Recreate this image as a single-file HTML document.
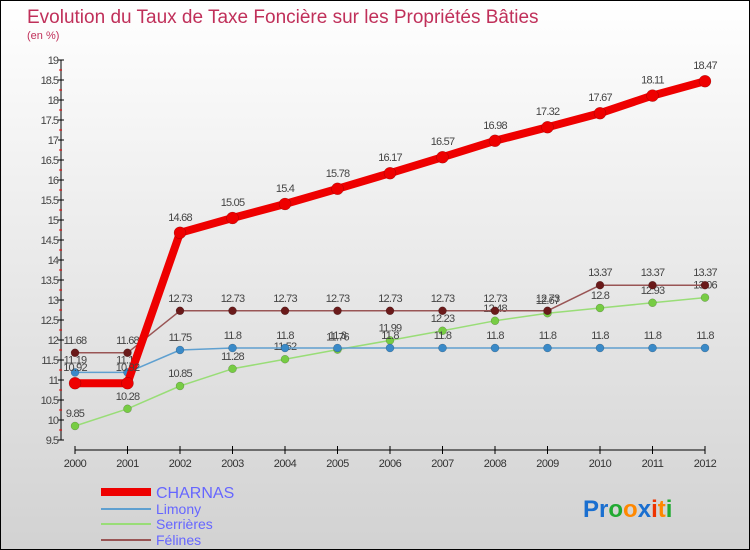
<!DOCTYPE html>
<html><head><meta charset="utf-8"><style>
body{margin:0;}
#c{position:relative;width:748px;height:548px;border:1px solid #000;background:linear-gradient(#ffffff,#d2d2d2);font-family:"Liberation Sans",sans-serif;overflow:hidden;}
</style></head><body>
<div id="c">
<svg id="s" width="748" height="548" xmlns="http://www.w3.org/2000/svg">
<text x="26" y="22" font-size="19" fill="#c0305a">Evolution du Taux de Taxe Foncière sur les Propriétés Bâties</text>
<text x="26" y="38" font-size="11" fill="#c0305a">(en %)</text>
<g id="axes"></g><g id="series"></g>
<g>
<line x1="100" y1="491" x2="150" y2="491" stroke="#e00" stroke-width="8"/>
<text x="155" y="497" font-size="16" fill="#6666ff">CHARNAS</text>
<line x1="100" y1="508" x2="150" y2="508" stroke="#5fa0d0" stroke-width="2"/>
<text x="155" y="513" font-size="14" fill="#6666ff">Limony</text>
<line x1="100" y1="523" x2="150" y2="523" stroke="#99dd77" stroke-width="2"/>
<text x="155" y="528" font-size="14" fill="#6666ff">Serrières</text>
<line x1="100" y1="539" x2="150" y2="539" stroke="#995555" stroke-width="2"/>
<text x="155" y="544" font-size="14" fill="#6666ff">Félines</text>
</g>
<text x="582" y="516" font-size="24" font-weight="bold"><tspan fill="#1a6fd0">Pr</tspan><tspan fill="#22aa33">o</tspan><tspan fill="#ff8800">o</tspan><tspan fill="#1a6fd0">x</tspan><tspan fill="#ee3300">i</tspan><tspan fill="#ff8800">t</tspan><tspan fill="#22aa33">i</tspan></text>
</svg>
</div>
<script>
const years=[2000,2001,2002,2003,2004,2005,2006,2007,2008,2009,2010,2011,2012];
const yTicks=[9.5,10,10.5,11,11.5,12,12.5,13,13.5,14,14.5,15,15.5,16,16.5,17,17.5,18,18.5,19];
const charnas=[10.92,10.92,14.68,15.05,15.4,15.78,16.17,16.57,16.98,17.32,17.67,18.11,18.47];
const limony=[11.19,11.19,11.75,11.8,11.8,11.8,11.8,11.8,11.8,11.8,11.8,11.8,11.8];
const serrieres=[9.85,10.28,10.85,11.28,11.52,11.76,11.99,12.23,12.48,12.67,12.8,12.93,13.06];
const felines=[11.68,11.68,12.73,12.73,12.73,12.73,12.73,12.73,12.73,12.73,13.37,13.37,13.37];
const NS="http://www.w3.org/2000/svg";
function X(i){return 74+i*52.5;}
function Y(v){return 439-(v-9.5)*40;}
function mk(t,a,p){const e=document.createElementNS(NS,t);for(const k in a)e.setAttribute(k,a[k]);p.appendChild(e);return e;}
const ax=document.getElementById('axes');
const yl=mk('line',{x1:60,y1:Y(19),x2:60,y2:Y(9.5),stroke:'#000'},ax);


yTicks.forEach(v=>{
 mk('line',{x1:57,y1:Y(v),x2:63,y2:Y(v),stroke:'#000'},ax);
 if(v<19)mk('line',{x1:58,y1:Y(v+0.25),x2:61,y2:Y(v+0.25),stroke:'#e00'},ax);
 const t=mk('text',{x:57,y:Y(v)+4,'font-size':11,fill:'#444','text-anchor':'end','letter-spacing':'-1'},ax);t.textContent=String(v);
 
 
});
const xl=mk('line',{x1:X(0),y1:449,x2:X(12),y2:449,stroke:'#000'},ax);


years.forEach((y,i)=>{
 mk('line',{x1:X(i),y1:445,x2:X(i),y2:453,stroke:'#000'},ax);
 const t=mk('text',{x:X(i),y:466,'font-size':11,fill:'#333','text-anchor':'middle','letter-spacing':'-0.5'},ax);t.textContent=y;
 
 
});
const sg=document.getElementById('series');
function draw(d,name,col,w,r,dot,lblOff){
 const g=mk('g',{},sg);
 
 
 mk('polyline',{points:d.map((v,i)=>X(i)+','+Y(v)).join(' '),fill:'none',stroke:col,'stroke-width':w,'stroke-linejoin':'round'},g);
 d.forEach((v,i)=>{
  const c=mk('circle',{cx:X(i),cy:Y(v),r:r,fill:dot,stroke:'rgba(0,0,0,0.3)','stroke-width':0.5},g);
  
  
  const t=mk('text',{x:X(i),y:Y(v)+lblOff,'font-size':11,fill:'#444','text-anchor':'middle','letter-spacing':'-0.8'},g);t.textContent=String(v);
  
  
 });
}
draw(serrieres,'serrieres','#99dd77',1.5,4,'#77cc44',-9);
draw(limony,'limony','#5fa0d0',1.5,4,'#3a8ac8',-9);
draw(felines,'felines','#995555',1.5,4,'#6a1a1a',-9);
draw(charnas,'charnas','#ee0000',8,6,'#ee0000',-12);
</script>
</body></html>
